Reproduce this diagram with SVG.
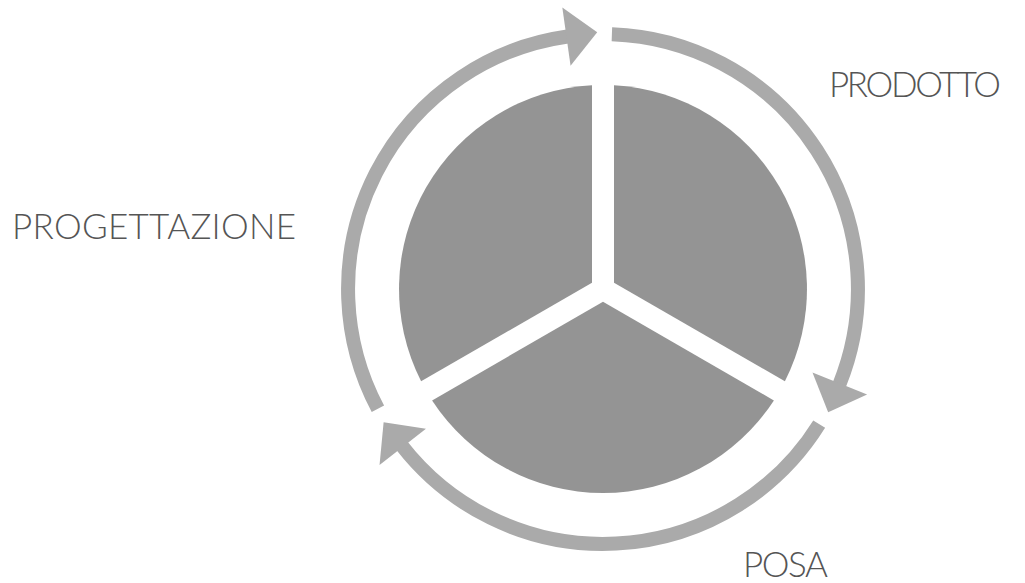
<svg xmlns="http://www.w3.org/2000/svg" width="1025" height="583" viewBox="0 0 1025 583">
<style>
.sector{fill:#949494}
.ring{fill:none;stroke:#aaaaaa;stroke-width:14;stroke-linecap:butt}
.label{font-family:Lato,"Open Sans","Liberation Sans",sans-serif;font-size:35px;font-weight:300;fill:#555555;letter-spacing:1px}
</style>
<defs>
<marker id="head" markerUnits="userSpaceOnUse" markerWidth="40" markerHeight="60" viewBox="-1 -28 30 56" refX="0" refY="0" orient="auto">
<path d="M-1,-27.5 L28,0 L-1,27.5 Z" fill="#aaaaaa"/>
</marker>
</defs>
<rect width="1025" height="583" fill="#ffffff"/>
<g id="pie">
<g id="sector-right"><path class="sector" d="M614,282.65 L614,85.3 A204,204 0 0 1 784.9,381.3 Z"/></g>
<g id="sector-bottom"><path class="sector" d="M603,301.7 L773.9,400.4 A204,204 0 0 1 432.1,400.4 Z"/></g>
<g id="sector-left"><path class="sector" d="M592,282.65 L421.1,381.3 A204,204 0 0 1 592,85.3 Z"/></g>
</g>
<g id="connectors">
<path class="ring" marker-end="url(#head)" d="M377.9,408.7 A255,255 0 0 1 567.5,36.5"/>
<path class="ring" marker-end="url(#head)" d="M611.9,34.2 A255,255 0 0 1 839.4,384.5"/>
<path class="ring" marker-end="url(#head)" d="M819.2,424.1 A255,255 0 0 1 402.1,446.0"/>
</g>
<g id="label-progettazione"><text class="label" x="12" y="239" textLength="285">PROGETTAZIONE</text></g>
<g id="label-prodotto"><text class="label" x="829" y="97" textLength="173">PRODOTTO</text></g>
<g id="label-posa"><text class="label" x="743" y="577" textLength="86">POSA</text></g>
</svg>
